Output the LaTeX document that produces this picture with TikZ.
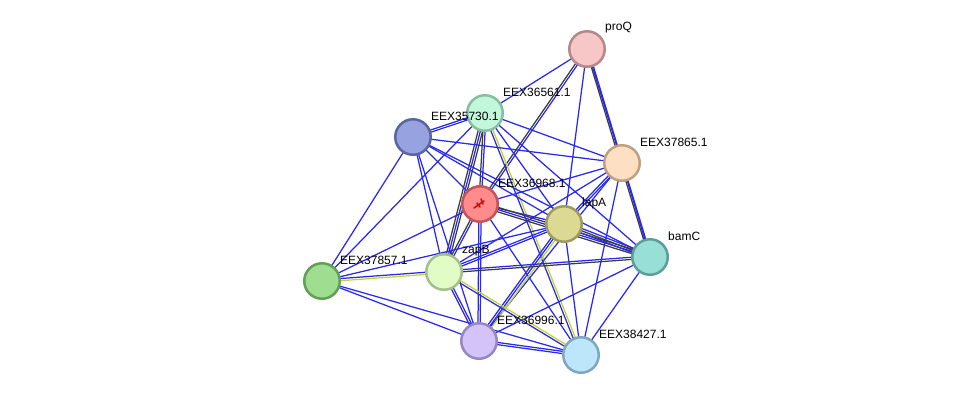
\documentclass[tikz,border=0pt]{standalone}
\usepackage{fontspec}
\setmainfont{Liberation Sans}
\usetikzlibrary{calc}
\pgfdeclarelayer{bg}
\pgfsetlayers{bg,main}
\definecolor{cb}{RGB}{40,40,240}
\definecolor{ck}{RGB}{60,60,60}
\definecolor{cy}{RGB}{195,212,40}
\newcommand\eA[3]{\draw[#3] (#1.center) -- (#2.center);}
\newcommand\eB[4]{%
  \draw[#3] ($(#1.center)!1.1bp!90:(#2.center)$) -- ($(#2.center)!1.1bp!-90:(#1.center)$);
  \draw[#4] ($(#1.center)!1.1bp!-90:(#2.center)$) -- ($(#2.center)!1.1bp!90:(#1.center)$);}
\newcommand\eC[5]{%
  \draw[#4] (#1.center) -- (#2.center);
  \draw[#3] ($(#1.center)!2.2bp!90:(#2.center)$) -- ($(#2.center)!2.2bp!-90:(#1.center)$);
  \draw[#5] ($(#1.center)!2.2bp!-90:(#2.center)$) -- ($(#2.center)!2.2bp!90:(#1.center)$);}
\tikzset{
  lb/.style={draw=cb, line width=1.25bp},
  lk/.style={draw=ck, line width=1.25bp},
  ly/.style={draw=cy, line width=1.25bp},
  prot/.style={circle, minimum size=35.5bp, inner sep=0pt, line width=2.5bp},
  lab/.style={anchor=west, inner sep=0pt, font=\fontsize{12bp}{14bp}\selectfont},
}
\newcommand\lbl[3]{\node[lab] (#1) at ($(#2)+(18,-21)$) {#3};}
\begin{document}
\begin{tikzpicture}[x=1bp,y=-1bp]
\useasboundingbox (0,0) rectangle (976,401);
% nodes
\node[prot, fill={rgb,255:red,247;green,198;blue,199}, draw={rgb,255:red,181;green,136;blue,137}] (P) at (587,49) {};
\node[prot, fill={rgb,255:red,194;green,247;blue,220}, draw={rgb,255:red,132;green,192;blue,159}] (A) at (485,113) {};
\node[prot, fill={rgb,255:red,151;green,163;blue,224}, draw={rgb,255:red,90;green,102;blue,160}] (B) at (413,137) {};
\node[prot, fill={rgb,255:red,253;green,224;blue,196}, draw={rgb,255:red,192;green,160;blue,128}] (C) at (622,163) {};
\node[prot, fill={rgb,255:red,255;green,140;blue,140}, draw={rgb,255:red,192;green,86;blue,86}] (D) at (480,204) {};
\node[prot, fill={rgb,255:red,219;green,217;blue,147}, draw={rgb,255:red,158;green,156;blue,90}] (L) at (564,224) {};
\node[prot, fill={rgb,255:red,151;green,223;blue,215}, draw={rgb,255:red,92;green,158;blue,152}] (M) at (650,257) {};
\node[prot, fill={rgb,255:red,159;green,222;blue,144}, draw={rgb,255:red,98;green,160;blue,85}] (G) at (322,281) {};
\node[prot, fill={rgb,255:red,226;green,252;blue,198}, draw={rgb,255:red,163;green,192;blue,138}] (Z) at (444,272) {};
\node[prot, fill={rgb,255:red,211;green,195;blue,248}, draw={rgb,255:red,150;green,134;blue,194}] (V) at (479,341) {};
\node[prot, fill={rgb,255:red,189;green,230;blue,251}, draw={rgb,255:red,127;green,168;blue,192}] (E) at (581,355) {};
% emblem in EEX36968.1
\draw[draw={rgb,255:red,190;green,20;blue,20}, line width=1.6bp, line cap=round]
  ($(D)+(-6,4)$) -- ($(D)+(4,-3)$) ($(D)+(-3,-1)$) -- ($(D)+(0,3)$) ($(D)+(1,-5)$) -- ($(D)+(3,0)$);
% labels
\lbl{tP}{P}{proQ}
\lbl{tA}{A}{EEX36561.1}
\lbl{tB}{B}{EEX35730.1}
\lbl{tC}{C}{EEX37865.1}
\lbl{tD}{D}{EEX36968.1}
\lbl{tL}{L}{lapA}
\lbl{tM}{M}{bamC}
\lbl{tG}{G}{EEX37857.1}
\lbl{tZ}{Z}{zapB}
\lbl{tV}{V}{EEX36996.1}
\lbl{tE}{E}{EEX38427.1}
% edges
\begin{pgfonlayer}{bg}
\eA{P}{A}{lb}
\eB{P}{D}{lb}{lk}
\eA{P}{L}{lb}
\eA{P}{C}{lb}
\eB{P}{M}{lb}{lk}
\eB{A}{B}{lb}{lb}
\eA{A}{C}{lb}
\eB{A}{D}{lb}{lk}
\eC{A}{Z}{lk}{lb}{lk}
\eA{A}{L}{lb}
\eA{A}{M}{lb}
\eB{A}{E}{ly}{lb}
\eA{A}{G}{lb}
\eA{B}{C}{lb}
\eA{B}{D}{lb}
\eA{B}{L}{lb}
\eA{B}{M}{lb}
\eA{B}{Z}{lb}
\eA{B}{V}{lb}
\eA{B}{G}{lb}
\eA{C}{D}{lb}
\eB{C}{L}{lb}{lb}
\eA{C}{M}{lb}
\eA{C}{E}{lb}
\eA{C}{V}{lb}
\eA{C}{Z}{lb}
\eA{D}{L}{lb}
\eC{D}{M}{lk}{lb}{lk}
\eB{D}{Z}{lb}{lk}
\eA{D}{G}{lb}
\eB{D}{V}{lb}{lb}
\eA{D}{E}{lb}
\eC{L}{M}{lb}{lk}{lb}
\eB{L}{Z}{lb}{lb}
\eA{L}{G}{lb}
\eC{L}{V}{ly}{lb}{lb}
\eA{L}{E}{lb}
\eB{M}{Z}{lk}{lb}
\eA{M}{V}{lb}
\eA{M}{E}{lb}
\eB{Z}{G}{ly}{lb}
\eB{Z}{V}{lb}{lb}
\eB{Z}{E}{ly}{lb}
\eA{G}{V}{lb}
\eA{G}{E}{lb}
\eB{V}{E}{lb}{lb}
\end{pgfonlayer}
\end{tikzpicture}
\end{document}
